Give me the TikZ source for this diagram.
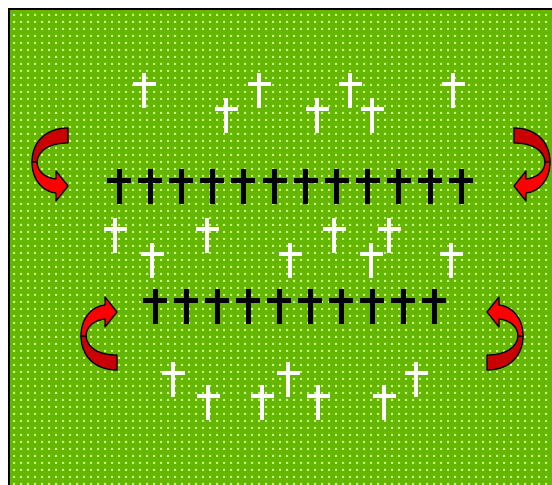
\documentclass[tikz,border=0pt]{standalone}
\usetikzlibrary{patterns.meta}
\definecolor{lawngreen}{RGB}{100,182,0}
\definecolor{lawndot}{RGB}{200,250,130}
\definecolor{ribbonred}{RGB}{255,0,0}
\definecolor{ribbondark}{RGB}{200,0,0}
\tikzdeclarepattern{
  name=lawndots,
  type=uncolored,
  bounding box={(0,0) and (6.8pt,6.8pt)},
  tile size={(6.8pt,6.8pt)},
  code={\fill (0pt,0pt) rectangle (2.3pt,2.3pt);}
}
\begin{document}
\begin{tikzpicture}[
  x=1pt, y=-1pt,
  whitecross/.pic={
    \fill (-2,0) rectangle (2,35);
    \fill (-11.5,9) rectangle (11.5,13);
  },
  blackcross/.pic={
    \fill (-2.5,0) rectangle (2.5,35);
    \fill (-12,9) rectangle (12,14);
  },
  ribbon/.style={draw=black, line width=1.3pt, line join=round},
  turnarrow/.pic={
    \fill[ribbondark, ribbon] (18,-36) .. controls (-4,-36) and (-18,-22) .. (-18,-2)
      -- (-13,-2) .. controls (-12,-14) and (0,-21) .. (18,-21) -- cycle;
    \fill[ribbonred, ribbon] (-18,-2) .. controls (-18,17) and (-6,28) .. (6,29)
      -- (6,37) -- (18,22) -- (6,7) -- (6,15)
      .. controls (-4,14) and (-13,8) .. (-13,-2) -- cycle;
  }
]
\useasboundingbox (0,0) rectangle (552,485);
\fill[lawngreen] (9,9) rectangle (552,485);
\fill[pattern=lawndots, pattern color=lawndot] (9,9) rectangle (552,485);
\draw[line width=2pt] (9,485) -- (9,9) -- (552,9);

\foreach \x/\y in {144/73, 226/98, 259/73, 317/98, 350/73, 372/98, 453/73,
                   115/218, 152/243, 207/218, 290/243, 334/218, 371/243, 389/218, 451/243,
                   173/362, 208/385, 262/385, 288/362, 318/385, 384/385, 416/362}
  \pic[white] at (\x,\y) {whitecross};

\foreach \i in {0,...,11}
  \pic[black] at (119+31.1*\i,169) {blackcross};
\foreach \i in {0,...,9}
  \pic[black] at (155+31*\i,289) {blackcross};

\pic at (50,164) {turnarrow};
\pic[xscale=-1] at (532,164) {turnarrow};
\pic[yscale=-1] at (99,334) {turnarrow};
\pic[xscale=-1, yscale=-1] at (505,334) {turnarrow};
\end{tikzpicture}
\end{document}
